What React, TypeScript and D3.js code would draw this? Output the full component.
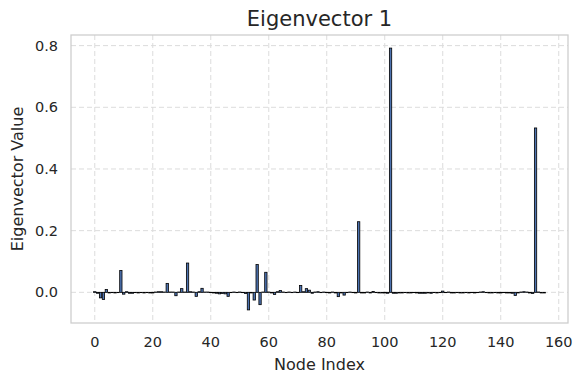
import React, { useRef, useEffect } from "react";
import * as d3 from "d3";

// eigenvector entries, one per node (index = node)
const values: number[] = [
  0.002, -0.003, -0.018, -0.023, 0.009, -0.002, -0.001, -0.002, -0.001, 0.071,
  -0.006, 0.002, -0.003, -0.003, -0.001, -0.002, -0.001, -0.002, -0.001, -0.002,
  -0.002, 0.001, 0.002, 0.002, 0.001, 0.029, 0.001, 0.001, -0.011, 0.001,
  0.012, 0.001, 0.095, 0.002, 0.001, -0.013, 0.002, 0.013, 0.001, 0.001,
  -0.001, -0.002, -0.003, -0.005, -0.004, -0.005, -0.013, -0.001, 0.001, -0.001,
  0.001, -0.001, -0.004, -0.057, -0.002, -0.025, 0.09, -0.04, 0.001, 0.065,
  0.001, -0.002, -0.007, 0.002, 0.006, 0.001, -0.001, 0.001, -0.001, 0.001,
  -0.001, 0.022, 0.002, 0.012, 0.007, -0.003, 0.001, 0.002, -0.001, 0.001,
  -0.001, -0.002, 0.001, -0.002, -0.014, -0.002, -0.009, -0.001, 0.001, -0.001,
  -0.002, 0.229, -0.002, -0.002, 0.001, -0.002, 0.003, -0.001, -0.002, -0.002,
  -0.002, -0.003, 0.792, -0.003, -0.003, -0.002, -0.002, -0.001, -0.002, -0.002,
  -0.001, -0.002, -0.003, -0.003, -0.003, -0.002, -0.003, -0.001, -0.002, -0.001,
  0.004, -0.001, 0.001, -0.002, -0.002, -0.001, -0.002, -0.002, -0.001, -0.002,
  -0.001, -0.002, -0.001, 0.001, 0.002, -0.001, -0.002, -0.002, -0.001, -0.002,
  -0.002, -0.001, -0.002, -0.002, -0.003, -0.01, -0.002, 0.001, 0.002, 0.001,
  -0.002, -0.004, 0.533, 0.001, -0.002, -0.002,
];
const xTicks = [0, 20, 40, 60, 80, 100, 120, 140, 160];
const yTicks = [0.0, 0.2, 0.4, 0.6, 0.8];

const W = 583;
const H = 384;
const margin = { top: 35, right: 15, bottom: 61, left: 71 };
const font = "DejaVu Sans, sans-serif";

export default function App() {
  const ref = useRef<SVGSVGElement>(null);

  useEffect(() => {
    const svg = d3.select(ref.current);
    svg.selectAll("*").remove();

    const barW = 0.8;
    // matplotlib style 5% margins
    const xMin = -barW / 2;
    const xMax = values.length - 1 + barW / 2;
    const xPad = (xMax - xMin) * 0.05;
    const yLo = Math.min(0, d3.min(values)!);
    const yHi = Math.max(0, d3.max(values)!);
    const yPad = (yHi - yLo) * 0.05;

    const x = d3
      .scaleLinear()
      .domain([xMin - xPad, xMax + xPad])
      .range([margin.left, W - margin.right]);
    const y = d3
      .scaleLinear()
      .domain([yLo - yPad, yHi + yPad])
      .range([H - margin.bottom, margin.top]);

    const grid = svg.append("g");
    grid
      .selectAll(".gx")
      .data(xTicks)
      .enter()
      .append("line")
      .attr("x1", (d) => x(d))
      .attr("x2", (d) => x(d))
      .attr("y1", margin.top)
      .attr("y2", H - margin.bottom)
      .attr("stroke", "#dcdcdc")
      .attr("stroke-width", 1)
      .attr("stroke-dasharray", "5,3");
    grid
      .selectAll(".gy")
      .data(yTicks)
      .enter()
      .append("line")
      .attr("x1", margin.left)
      .attr("x2", W - margin.right)
      .attr("y1", (d) => y(d))
      .attr("y2", (d) => y(d))
      .attr("stroke", "#dcdcdc")
      .attr("stroke-width", 1)
      .attr("stroke-dasharray", "5,3");

    svg
      .append("g")
      .selectAll("rect")
      .data(values)
      .enter()
      .append("rect")
      .attr("x", (d, i) => x(i - barW / 2))
      .attr("width", x(barW) - x(0))
      .attr("y", (d) => y(Math.max(0, d)))
      .attr("height", (d) => Math.abs(y(d) - y(0)))
      .attr("fill", "#4c72b0")
      .attr("stroke", "black")
      .attr("stroke-width", 0.8);

    // frame
    svg
      .append("rect")
      .attr("x", margin.left)
      .attr("y", margin.top)
      .attr("width", W - margin.left - margin.right)
      .attr("height", H - margin.top - margin.bottom)
      .attr("fill", "none")
      .attr("stroke", "#cccccc")
      .attr("stroke-width", 1.25);

    svg
      .append("g")
      .selectAll("text")
      .data(xTicks)
      .enter()
      .append("text")
      .attr("x", (d) => x(d))
      .attr("y", H - margin.bottom + 24)
      .attr("text-anchor", "middle")
      .style("font-family", font)
      .style("font-size", "14.5px")
      .attr("fill", "#262626")
      .text((d) => d);

    svg
      .append("g")
      .selectAll("text")
      .data(yTicks)
      .enter()
      .append("text")
      .attr("x", margin.left - 13)
      .attr("y", (d) => y(d) + 5)
      .attr("text-anchor", "end")
      .style("font-family", font)
      .style("font-size", "14.5px")
      .attr("fill", "#262626")
      .text((d) => d3.format(".1f")(d));

    const cx = (margin.left + W - margin.right) / 2;
    svg
      .append("text")
      .attr("x", cx)
      .attr("y", 26)
      .attr("text-anchor", "middle")
      .style("font-family", font)
      .style("font-size", "21px")
      .attr("fill", "#262626")
      .text("Eigenvector 1");

    svg
      .append("text")
      .attr("x", cx)
      .attr("y", H - 14)
      .attr("text-anchor", "middle")
      .style("font-family", font)
      .style("font-size", "16px")
      .attr("fill", "#262626")
      .text("Node Index");

    svg
      .append("text")
      .attr(
        "transform",
        `translate(23,${(margin.top + H - margin.bottom) / 2}) rotate(-90)`
      )
      .attr("text-anchor", "middle")
      .style("font-family", font)
      .style("font-size", "16px")
      .attr("fill", "#262626")
      .text("Eigenvector Value");
  }, []);

  return (
    <svg
      ref={ref}
      width={W}
      height={H}
      style={{ position: "absolute", left: 0, top: 0, background: "white" }}
    />
  );
}
